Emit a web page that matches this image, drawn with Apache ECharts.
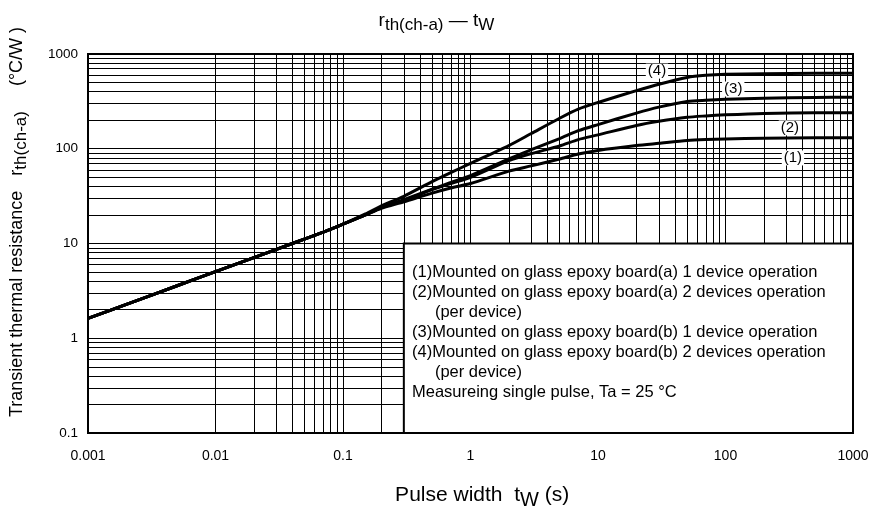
<!DOCTYPE html>
<html><head><meta charset="utf-8">
<script src="https://cdn.jsdelivr.net/npm/echarts@6/dist/echarts.min.js"></script>
<style>html,body{margin:0;padding:0;background:#fff}#c{width:873px;height:511px}</style>
</head><body><div id="c"></div>
<script>
const tw = [0.001, 0.002, 0.005, 0.01, 0.02, 0.04, 0.07, 0.1, 0.15, 0.2, 0.3, 0.5, 0.7, 1, 2, 3, 5, 7, 10, 20, 30, 50, 70, 100, 200, 500, 1000];
const rth1 = [1.62, 2.28, 3.58, 5.05, 7.1, 10, 13.2, 16, 20, 23.5, 27.5, 34, 38.5, 43, 58, 66, 78, 88, 96, 108, 114, 122, 125, 127, 129, 131, 131];
const rth2 = [1.62, 2.28, 3.58, 5.05, 7.1, 10, 13.2, 16, 20, 24, 28.5, 37, 43, 50, 75, 89, 107, 125, 140, 176, 195, 215, 222, 228, 236, 240, 240];
const rth3 = [1.62, 2.28, 3.58, 5.05, 7.1, 10, 13.2, 16, 20, 24, 29, 37.5, 44, 52, 78, 98, 128, 155, 180, 238, 275, 315, 325, 332, 342, 348, 350];
const rth4 = [1.62, 2.28, 3.58, 5.05, 7.1, 10, 13.2, 16, 20.5, 25, 31.5, 45, 56, 70, 108, 145, 210, 262, 308, 410, 480, 565, 595, 610, 620, 625, 625];
const curveNames = ['(1)', '(2)', '(3)', '(4)'];
const labelAnchors = [[338, 80], [320, 166], [115, 427], [29, 660]];
const xTicks = [0.001, 0.01, 0.1, 1, 10, 100, 1000];
const yTicks = [0.1, 1, 10, 100, 1000];
const noteLines = [
  '(1)Mounted on glass epoxy board(a) 1 device operation',
  '(2)Mounted on glass epoxy board(a) 2 devices operation',
  '     (per device)',
  '(3)Mounted on glass epoxy board(b) 1 device operation',
  '(4)Mounted on glass epoxy board(b) 2 devices operation',
  '     (per device)',
  'Measureing single pulse, Ta = 25 °C'
];
const FONT = '"Liberation Sans", Arial, sans-serif';

const minorX = [], minorY = [];
for (let k = -3; k <= 2; k++) for (let m = 2; m <= 9; m++) minorX.push(+(m * Math.pow(10, k)).toPrecision(3));
for (let k = -1; k <= 2; k++) for (let m = 2; m <= 9; m++) minorY.push(+(m * Math.pow(10, k)).toPrecision(3));

const series = [];
series.push({
  type: 'line', data: [], z: 1, silent: true,
  markLine: {
    z: 1, silent: true, symbol: ['none', 'none'], label: { show: false },
    lineStyle: { color: '#000', width: 1, type: 'solid' }, animation: false,
    emphasis: { disabled: true },
    data: minorX.map(v => ({ xAxis: v })).concat(minorY.map(v => ({ yAxis: v })))
  }
});
series.push({
  type: 'line', data: [], z: 2, silent: true,
  markArea: {
    z: 3, silent: true, animation: false,
    itemStyle: { color: '#fff', borderColor: '#000', borderWidth: 2, opacity: 1 },
    emphasis: { disabled: true },
    data: [[{ coord: [0.3, 10] }, { coord: [1000, 0.1] }]]
  }
});
[rth1, rth2, rth3, rth4].forEach((arr, i) => {
  series.push({
    name: curveNames[i], type: 'line', z: 5, symbol: 'none', smooth: 0.25,
    lineStyle: { color: '#000', width: 3 },
    data: tw.map((t, j) => [t, arr[j]]),
    markPoint: {
      z: 6, symbol: 'rect', symbolSize: 1, itemStyle: { color: 'transparent' }, animation: false,
      label: { show: true, position: 'inside', formatter: curveNames[i], color: '#000',
        fontFamily: FONT, fontSize: 15, backgroundColor: '#fff', padding: [0, 2] },
      data: [{ coord: labelAnchors[i] }]
    }
  });
});

const chart = echarts.init(document.getElementById('c'), null, { renderer: 'canvas' });
chart.setOption({
  animation: false,
  backgroundColor: '#fff',
  title: {
    text: '{r|r}{s|th(ch-a)}{r| — t}{s|W}', left: 'center', top: 3,
    textStyle: { fontWeight: 'normal', rich: {
      r: { fontFamily: FONT, fontSize: 19, fontWeight: 'normal', color: '#000' },
      s: { fontFamily: FONT, fontSize: 17, fontWeight: 'normal', color: '#000', padding: [9, 0, 0, 0] }
    } }
  },
  grid: { left: 88, right: 20, top: 54, bottom: 78, show: true, borderColor: '#000', borderWidth: 2, backgroundColor: 'transparent', outerBoundsMode: 'none', containLabel: false },
  xAxis: {
    type: 'log', min: 0.001, max: 1000, logBase: 10,
    name: '{n|    Pulse width  t}{s|W}{n| (s)}', nameLocation: 'middle', nameGap: 48,
    nameTextStyle: { rich: {
      n: { fontFamily: FONT, fontSize: 21, color: '#000' },
      s: { fontFamily: FONT, fontSize: 20, color: '#000', padding: [9, 0, 0, 0] }
    } },
    axisLine: { show: true, lineStyle: { color: '#000', width: 2 } },
    axisTick: { show: false },
    axisLabel: { color: '#000', fontFamily: FONT, fontSize: 14, margin: 16,
      formatter: v => { const r = xTicks.find(t => Math.abs(Math.log10(t) - Math.log10(v)) < 1e-6); return r === undefined ? '' : String(r); } },
    splitLine: { show: true, lineStyle: { color: '#000', width: 1 } }
  },
  yAxis: {
    type: 'log', min: 0.1, max: 1000, logBase: 10,
    axisLine: { show: true, lineStyle: { color: '#000', width: 2 } },
    axisTick: { show: false },
    axisLabel: { color: '#000', fontFamily: FONT, fontSize: 13.5, margin: 10,
      formatter: v => { const r = yTicks.find(t => Math.abs(Math.log10(t) - Math.log10(v)) < 1e-6); return r === undefined ? '' : String(r); } },
    splitLine: { show: true, lineStyle: { color: '#000', width: 1 } }
  },
  graphic: [{
    type: 'text', left: 412, top: 262, z: 100,
    style: { text: noteLines.join('\n'), fontFamily: FONT, fontSize: 16.5, lineHeight: 20, fill: '#000' }
  }, {
    type: 'text', x: 17, y: 222, rotation: Math.PI / 2, z: 100,
    style: {
      text: '{n|Transient thermal resistance   r}{s|th(ch-a)}{n|     (°C/W )}',
      align: 'center', verticalAlign: 'middle',
      rich: {
        n: { fontFamily: FONT, fontSize: 18, fill: '#000' },
        s: { fontFamily: FONT, fontSize: 17, fill: '#000', padding: [8, 0, 0, 0] }
      }
    }
  }],
  series: series
});
</script></body></html>
